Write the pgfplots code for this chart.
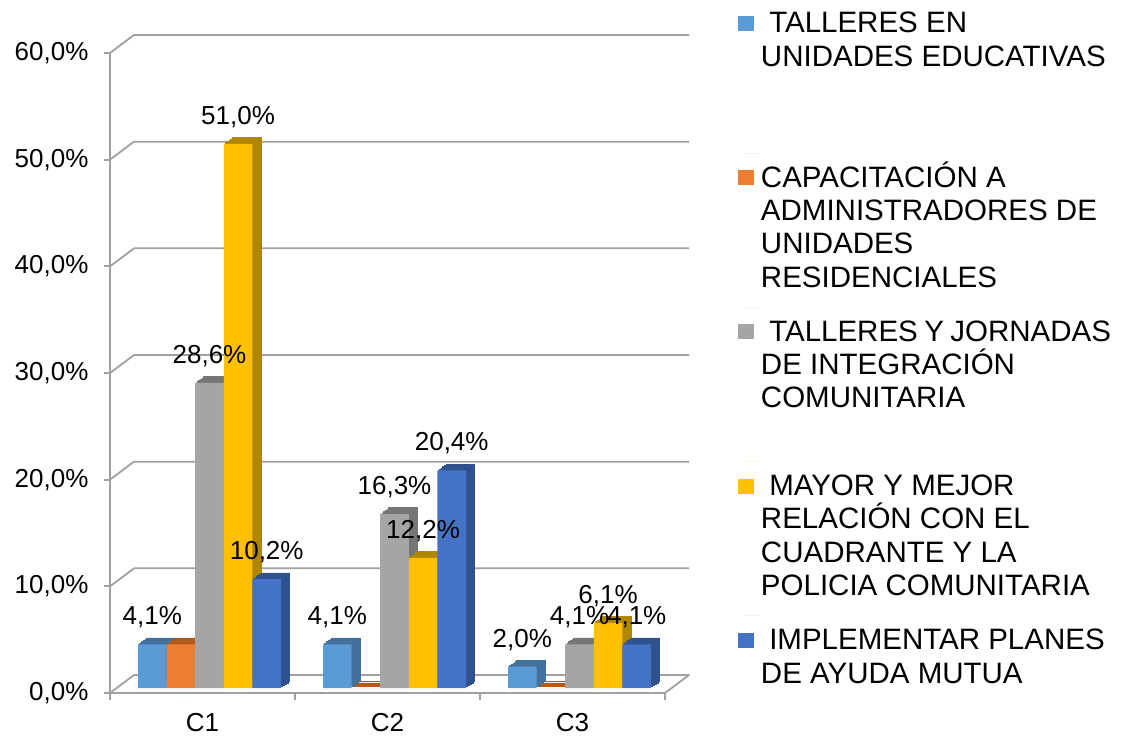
\documentclass[border=0pt]{standalone}
\usepackage{pgfplots}
\pgfplotsset{compat=1.18}
\usepackage{pgfplotstable}
\usepackage{fontspec}
\setmainfont{Liberation Sans}
\definecolor{cA}{HTML}{5B9BD5}\definecolor{cAs}{HTML}{41719C}
\definecolor{cB}{HTML}{ED7D31}\definecolor{cBs}{HTML}{AE5A21}
\definecolor{cC}{HTML}{A5A5A5}\definecolor{cCs}{HTML}{767676}
\definecolor{cD}{HTML}{FFC000}\definecolor{cDs}{HTML}{B08600}
\definecolor{cE}{HTML}{4472C4}\definecolor{cEs}{HTML}{2F528F}
\definecolor{gridc}{HTML}{A0A0A0}

\pgfplotstableread{
x s1 s2 s3 s4 s5
1 4.1 4.1 28.6 51.0 10.2
2 4.1 0.0 16.3 12.2 20.4
3 2.0 0.0 4.1 6.1 4.1
}\datatable

\newcommand\dep[5]{\addplot[depth, bar shift=#2, fill=#3, draw=#3, xshift=#4, yshift=#5] table[x=x,y=#1]{\datatable};}
\newcommand\depths[3]{%
\dep{#1}{#2}{#3}{15.5pt}{11.4pt}%
\dep{#1}{#2}{#3}{13.8pt}{10.1pt}%
\dep{#1}{#2}{#3}{12.1pt}{8.8pt}%
\dep{#1}{#2}{#3}{10.4pt}{7.6pt}%
\dep{#1}{#2}{#3}{8.7pt}{6.3pt}}
\newcommand\lfont{\fontsize{26}{30}\selectfont}
\newcommand\gfont{\fontsize{29.5}{33.3}\selectfont}
\newcommand\lent[1]{\parbox[b][143.7pt][t]{350pt}{\rule{0pt}{27pt}#1}}

\begin{document}
\begin{tikzpicture}[x=1pt,y=1pt]
\useasboundingbox (0,0) rectangle (1123,737);
\begin{axis}[
  at={(110pt,44pt)}, anchor=south west,
  scale only axis, width=555pt, height=640pt,
  xmin=0.5, xmax=3.5, ymin=0, ymax=60,
  clip=false,
  axis y line=left, axis x line=bottom,
  axis line style={gridc, line width=1.8pt, -},
  ytick={0,10,20,30,40,50,60},
  yticklabel={\pgfmathprintnumber[fixed,fixed zerofill,precision=1,use comma,assume math mode=true]{\tick}\%},
  y tick label style={font=\lfont, xshift=-12pt, black},
  ytick style={gridc, line width=1.8pt},
  tick align=outside, major tick length=6pt,
  xtick={1,2,3}, xticklabels={C1,C2,C3},
  x tick style={draw=none},
  x tick label style={font=\lfont, yshift=-11pt, black},
  depth/.style={ybar, bar width=28.6pt, line width=0.6pt, forget plot},
  front/.style={ybar, bar width=28.6pt, draw=none, xshift=7pt, yshift=5pt},
  lab/.style={nodes near coords={\pgfmathprintnumber[fixed,fixed zerofill,precision=1,use comma,assume math mode=true]{\pgfplotspointmeta}\%},
    every node near coord/.append style={font=\lfont, anchor=center, xshift=#1, yshift=27pt, black}},
  legend style={at={(1.1315,1.0844)}, anchor=north west, draw=none, fill=none,
    inner sep=0pt, outer sep=0pt, row sep=0pt, column sep=0pt, font=\gfont,
    cells={anchor=north west, inner sep=0pt, outer sep=0pt}},
  legend image code/.code={\path (0pt,0pt) -- (14pt,0pt);
    \fill[#1, xshift=-7pt, yshift=-5pt, draw=none] (0pt,-12pt) rectangle (16pt,-27pt);},
]
% back wall and floor grid
\pgfplotsinvokeforeach{10,20,30,40,50,60}{
  \draw[gridc, line width=1.8pt, line join=round] (axis cs:0.5,#1) -- ++(24pt,18pt) -- ([shift={(24pt,18pt)}]axis cs:3.5,#1);
}
\draw[gridc, line width=1.8pt, line join=round] (axis cs:0.5,0) -- ++(24pt,18pt) -- ([shift={(24pt,18pt)}]axis cs:3.5,0) -- (axis cs:3.5,0);
\pgfplotsinvokeforeach{0.5,1.5,2.5,3.5}{
  \draw[gridc, line width=1.8pt] (axis cs:#1,0) -- ++(0pt,-7pt);
}
% depth faces
\depths{s1}{-57.2pt}{cAs}
\depths{s2}{-28.6pt}{cBs}
\depths{s3}{0pt}{cCs}
\depths{s4}{28.6pt}{cDs}
\depths{s5}{57.2pt}{cEs}
% front faces
\addplot[front, lab=-57.2pt, fill=cA, bar shift=-57.2pt] table[x=x,y=s1]{\datatable};
\addlegendentry{\lent{\hspace{0.28em}TALLERES EN\\UNIDADES EDUCATIVAS}}
\addplot[front, fill=cB, bar shift=-28.6pt] table[x=x,y=s2]{\datatable};
\addlegendentry{\lent{CAPACITACIÓN A\\ADMINISTRADORES DE\\UNIDADES\\RESIDENCIALES}}
\addplot[front, lab=0pt, fill=cC, bar shift=0pt] table[x=x,y=s3]{\datatable};
\addlegendentry{\lent{\hspace{0.28em}TALLERES Y JORNADAS\\DE INTEGRACIÓN\\COMUNITARIA}}
\addplot[front, lab=28.6pt, fill=cD, bar shift=28.6pt] table[x=x,y=s4]{\datatable};
\addlegendentry{\lent{\hspace{0.28em}MAYOR Y MEJOR\\RELACIÓN CON EL\\CUADRANTE Y LA\\POLICIA COMUNITARIA}}
\addplot[front, lab=57.2pt, fill=cE, bar shift=57.2pt] table[x=x,y=s5]{\datatable};
\addlegendentry{\lent{\hspace{0.28em}IMPLEMENTAR PLANES\\DE AYUDA MUTUA}}
\end{axis}
\end{tikzpicture}
\end{document}
